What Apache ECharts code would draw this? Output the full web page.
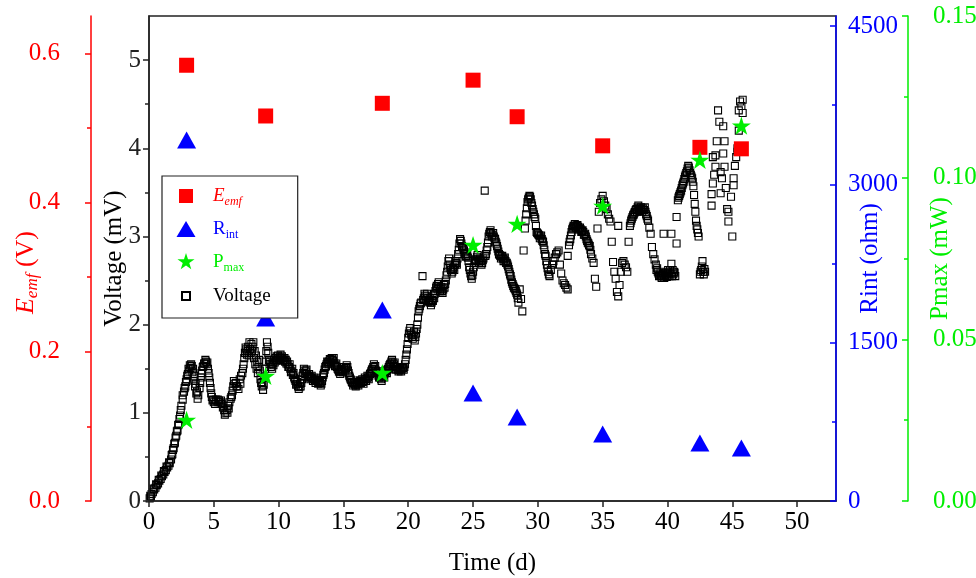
<!DOCTYPE html>
<html>
<head>
<meta charset="utf-8">
<script src="https://cdn.jsdelivr.net/npm/echarts@6/dist/echarts.min.js"></script>
<style>
  html, body { margin: 0; padding: 0; background: #fff; }
  #chart { width: 976px; height: 578px; }
</style>
</head>
<body>
<div id="chart"></div>
<script>
// Electrode measurements: Eemf, internal resistance and peak power on selected days
const sampleDays = [2.9, 9, 18, 25, 28.4, 35, 42.5, 45.7];
const eemfValues = [0.584, 0.516, 0.533, 0.564, 0.515, 0.476, 0.474, 0.472];
const rintValues = [3420, 1734, 1810, 1023, 796, 635, 549, 502];
const pmaxValues = [0.0251, 0.0387, 0.0396, 0.0792, 0.0857, 0.0913, 0.1055, 0.1161];

// Logged cell voltage: [day, mV]
const voltagePoints = [
  [0.05,0.03],[0.1,0.06],[0.2,0.08],[0.3,0.10],[0.4,0.13],[0.5,0.15],[0.6,0.18],[0.7,0.20],[0.8,0.23],[0.9,0.25],
  [1.0,0.28],[1.1,0.30],[1.2,0.33],[1.3,0.35],[1.4,0.38],[1.5,0.40],[1.6,0.43],[1.7,0.47],[1.8,0.53],[1.9,0.60],
  [2.0,0.66],[2.1,0.74],[2.2,0.80],[2.3,0.87],[2.4,0.97],[2.5,1.08],[2.6,1.15],[2.7,1.24],[2.8,1.30],[2.9,1.38],
  [3.0,1.44],[3.1,1.48],[3.2,1.51],[3.3,1.53],[3.4,1.50],[3.5,1.42],[3.5,1.36],[3.6,1.33],[3.7,1.24],[3.8,1.20],
  [3.9,1.28],[4.0,1.40],[4.1,1.48],[4.2,1.53],[4.3,1.56],[4.4,1.58],[4.5,1.57],[4.6,1.45],[4.7,1.34],[4.8,1.22],
  [4.9,1.14],[5.0,1.12],[5.1,1.10],[5.2,1.13],[5.3,1.15],[5.4,1.14],[5.5,1.12],[5.6,1.10],[5.7,1.06],[5.8,1.03],
  [5.9,1.00],[6.0,1.03],[6.1,1.08],[6.2,1.12],[6.3,1.16],[6.4,1.20],[6.5,1.30],[6.6,1.33],[6.7,1.34],[6.8,1.30],
  [6.9,1.27],[7.0,1.38],[7.1,1.42],[7.2,1.45],[7.3,1.55],[7.4,1.68],[7.5,1.72],[7.6,1.70],[7.7,1.65],[7.8,1.72],
  [7.9,1.78],[8.0,1.75],[8.1,1.62],[8.2,1.55],[8.3,1.50],[8.4,1.45],[8.5,1.60],[8.6,1.38],[8.7,1.30],[8.8,1.26],
  [8.9,1.40],[9.0,1.58],[9.1,1.80],[9.2,1.68],[9.3,1.55],[9.4,1.52],[9.5,1.50],[9.6,1.54],[9.7,1.57],[9.8,1.59],
  [9.9,1.60],[10.0,1.62],[10.1,1.63],[10.2,1.62],[10.3,1.62],[10.4,1.60],[10.5,1.58],[10.6,1.56],[10.7,1.55],[10.8,1.52],
  [10.9,1.50],[11.0,1.47],[11.1,1.43],[11.2,1.40],[11.3,1.36],[11.4,1.33],[11.5,1.30],[11.6,1.29],[11.7,1.30],[11.8,1.38],
  [11.9,1.45],[12.0,1.48],[12.1,1.47],[12.2,1.44],[12.3,1.42],[12.4,1.41],[12.5,1.40],[12.6,1.39],[12.7,1.38],[12.8,1.37],
  [12.9,1.37],[13.0,1.36],[13.1,1.35],[13.2,1.34],[13.3,1.33],[13.4,1.40],[13.5,1.45],[13.6,1.52],[13.7,1.55],[13.8,1.57],
  [13.9,1.58],[14.0,1.60],[14.1,1.62],[14.2,1.59],[14.3,1.56],[14.4,1.54],[14.5,1.52],[14.6,1.49],[14.7,1.46],[14.8,1.47],
  [14.9,1.48],[15.0,1.49],[15.1,1.50],[15.2,1.51],[15.3,1.52],[15.4,1.45],[15.5,1.40],[15.6,1.37],[15.7,1.34],[15.8,1.33],
  [15.9,1.32],[16.0,1.32],[16.1,1.33],[16.2,1.35],[16.3,1.36],[16.4,1.36],[16.5,1.35],[16.6,1.36],[16.7,1.38],[16.8,1.39],
  [16.9,1.40],[17.0,1.42],[17.1,1.45],[17.2,1.49],[17.3,1.52],[17.4,1.50],[17.5,1.48],[17.6,1.45],[17.7,1.42],[17.8,1.40],
  [17.9,1.38],[18.0,1.40],[18.1,1.43],[18.2,1.45],[18.3,1.47],[18.4,1.49],[18.5,1.52],[18.6,1.55],[18.7,1.58],[18.8,1.57],
  [18.9,1.55],[19.0,1.52],[19.1,1.50],[19.2,1.49],[19.3,1.49],[19.4,1.49],[19.5,1.50],[19.6,1.51],[19.7,1.52],[19.8,1.60],
  [19.9,1.72],[20.0,1.85],[20.1,1.93],[20.2,1.90],[20.3,1.86],[20.4,1.88],[20.5,1.82],[20.6,1.90],[20.7,2.00],[20.8,2.15],
  [20.9,2.21],[21.0,2.25],[21.1,2.55],[21.2,2.30],[21.3,2.33],[21.4,2.32],[21.5,2.30],[21.6,2.27],[21.7,2.25],[21.8,2.25],
  [21.9,2.27],[22.0,2.30],[22.1,2.38],[22.2,2.44],[22.3,2.46],[22.4,2.42],[22.5,2.40],[22.6,2.38],[22.7,2.40],[22.8,2.42],
  [22.9,2.50],[23.0,2.60],[23.1,2.72],[23.2,2.68],[23.3,2.62],[23.4,2.60],[23.5,2.65],[23.6,2.68],[23.7,2.70],[23.8,2.75],
  [23.9,2.85],[24.0,2.97],[24.1,2.92],[24.2,2.88],[24.3,2.84],[24.4,2.80],[24.5,2.78],[24.6,2.76],[24.7,2.65],[24.8,2.58],
  [24.9,2.52],[25.0,2.60],[25.1,2.70],[25.2,2.74],[25.3,2.77],[25.4,2.75],[25.5,2.73],[25.6,2.72],[25.7,2.70],[25.8,2.75],
  [25.9,3.52],[26.0,2.80],[26.1,2.88],[26.2,3.00],[26.3,3.05],[26.4,3.04],[26.5,3.02],[26.6,3.00],[26.7,2.97],[26.8,2.92],
  [26.9,2.86],[27.0,2.80],[27.1,2.78],[27.2,2.77],[27.3,2.75],[27.4,2.74],[27.5,2.72],[27.6,2.70],[27.7,2.66],[27.8,2.60],
  [27.9,2.55],[28.0,2.48],[28.1,2.44],[28.2,2.41],[28.3,2.38],[28.4,2.34],[28.5,2.25],[28.6,2.40],[28.7,2.29],[28.8,2.15],
  [28.9,2.84],[29.0,3.09],[29.1,3.25],[29.2,3.39],[29.3,3.44],[29.4,3.45],[29.5,3.38],[29.6,3.31],[29.7,3.25],[29.8,3.20],
  [29.9,3.05],[30.0,3.03],[30.1,3.01],[30.2,3.00],[30.3,2.97],[30.4,2.94],[30.5,2.85],[30.6,2.78],[30.7,2.68],[30.8,2.60],
  [30.9,2.55],[31.0,2.62],[31.1,2.68],[31.2,2.72],[31.3,2.76],[31.4,2.80],[31.5,2.82],[31.6,2.84],[31.7,2.68],[31.8,2.58],
  [31.9,2.50],[32.0,2.47],[32.1,2.45],[32.2,2.42],[32.3,2.40],[32.3,2.78],[32.4,2.90],[32.5,2.97],[32.6,3.05],[32.7,3.10],
  [32.8,3.11],[32.9,3.12],[33.0,3.12],[33.1,3.11],[33.2,3.09],[33.3,3.08],[33.4,3.06],[33.5,3.05],[33.6,3.02],[33.7,3.00],
  [33.8,2.95],[33.9,2.92],[34.0,2.89],[34.1,2.80],[34.2,2.75],[34.3,2.70],[34.4,2.52],[34.5,2.43],[34.6,3.09],[34.7,3.28],
  [34.8,3.38],[34.9,3.42],[35.0,3.46],[35.1,3.40],[35.2,3.35],[35.3,3.31],[35.4,3.25],[35.5,3.20],[35.6,3.17],[35.7,2.94],
  [35.8,2.71],[35.9,2.60],[36.0,2.52],[36.1,2.37],[36.2,2.32],[36.2,3.12],[36.3,2.45],[36.4,2.60],[36.5,2.70],[36.6,2.72],
  [36.7,2.68],[36.8,2.65],[36.9,2.60],[37.0,2.94],[37.1,3.12],[37.2,3.18],[37.3,3.22],[37.4,3.25],[37.5,3.28],[37.6,3.31],
  [37.7,3.33],[37.8,3.32],[37.9,3.30],[38.0,3.31],[38.1,3.32],[38.2,3.30],[38.3,3.28],[38.4,3.23],[38.5,3.18],[38.6,3.10],
  [38.7,3.03],[38.8,2.88],[38.9,2.80],[39.0,2.74],[39.1,2.68],[39.2,2.64],[39.3,2.58],[39.4,2.56],[39.5,2.55],[39.6,2.55],
  [39.7,2.56],[39.7,3.03],[39.8,2.58],[39.9,2.60],[40.0,2.59],[40.1,2.58],[40.2,2.62],[40.3,2.69],[40.3,3.03],[40.4,2.62],
  [40.5,2.60],[40.6,2.55],[40.7,2.92],[40.7,3.22],[40.8,3.41],[40.9,3.46],[41.0,3.50],[41.1,3.55],[41.2,3.60],[41.3,3.65],
  [41.4,3.70],[41.5,3.74],[41.6,3.80],[41.7,3.75],[41.8,3.70],[41.9,3.66],[42.0,3.57],[42.1,3.37],[42.2,3.18],[42.3,3.08],
  [42.4,3.00],[42.5,2.57],[42.6,2.62],[42.7,2.72],[42.8,2.57],[42.9,2.60],[43.4,3.35],[43.4,3.48],[43.5,3.60],[43.5,3.90],
  [43.6,3.70],[43.7,3.79],[43.7,3.92],[43.8,4.08],[43.9,4.43],[44.0,4.30],[44.1,3.49],[44.1,3.73],[44.2,3.66],[44.3,3.94],
  [44.3,4.25],[44.4,4.08],[44.4,3.79],[44.5,3.55],[44.6,3.31],[44.7,3.17],[44.7,3.28],[44.9,3.45],[45.0,3.00],[45.1,3.58],
  [45.1,3.66],[45.2,3.80],[45.3,3.90],[45.4,4.00],[45.4,3.96],[45.5,4.20],[45.5,4.43],[45.6,4.53],[45.7,4.48],[45.8,4.40],
  [45.8,4.55],
  // second pass of readings where the logged band is thick
  [0.15,0.05],[0.35,0.14],[0.55,0.19],[0.75,0.24],[0.95,0.29],[1.15,0.34],[1.35,0.39],[1.55,0.44],[1.75,0.52],[1.85,0.58],
  [1.95,0.65],[2.05,0.72],[2.15,0.79],[2.25,0.86],[2.35,0.93],[2.45,1.03],
  [2.6,1.20],[2.75,1.28],[2.85,1.35],[2.95,1.42],[3.05,1.50],[3.15,1.54],[3.25,1.55],[3.35,1.46],[3.45,1.40],[3.55,1.30],
  [3.65,1.22],[3.75,1.16],[3.95,1.34],[4.05,1.45],[4.15,1.52],[4.25,1.56],[4.35,1.60],[4.45,1.55],[4.55,1.50],[4.65,1.40],
  [4.75,1.28],[4.85,1.18],[4.95,1.15],[5.15,1.15],[5.35,1.12],[5.55,1.14],[5.75,1.08],[5.85,0.98],[6.05,1.00],[6.15,1.05],
  [6.35,1.18],[6.45,1.25],[6.55,1.36],[6.75,1.30],
  [7.05,1.33],[7.25,1.50],[7.35,1.62],[7.45,1.74],[7.55,1.66],[7.65,1.75],[7.75,1.80],[7.85,1.68],[7.95,1.70],[8.05,1.80],
  [8.15,1.70],[8.25,1.65],[8.35,1.58],[8.45,1.52],[8.55,1.48],[8.65,1.34],[8.75,1.35],[8.85,1.32],[8.95,1.50],[9.05,1.70],
  [9.15,1.75],[9.25,1.60],[9.35,1.58],[9.45,1.55],[9.55,1.56],[9.65,1.60],[9.75,1.62],[9.85,1.64],[9.95,1.65],[10.05,1.60],
  [10.15,1.66],[10.25,1.64],[10.35,1.59],[10.45,1.62],[10.55,1.60],[10.65,1.58],[10.75,1.52],[10.85,1.55],[10.95,1.46],[11.05,1.50],
  [11.15,1.45],[11.25,1.38],[11.35,1.32],[11.45,1.35],[11.55,1.27],[11.65,1.33],[11.75,1.34],[11.85,1.42],[11.95,1.50],[12.05,1.44],
  [12.15,1.49],[12.25,1.40],[12.35,1.44],[12.45,1.38],[12.55,1.42],[12.65,1.36],[12.75,1.40],[12.85,1.34],[12.95,1.39],[13.05,1.33],
  [13.15,1.37],[13.25,1.31],[13.35,1.36],[13.45,1.43],[13.55,1.49],[13.65,1.53],[13.75,1.58],[13.85,1.55],[13.95,1.61],[14.05,1.57],
  [14.15,1.60],[14.25,1.62],[14.35,1.53],[14.45,1.56],[14.55,1.50],[14.65,1.47],[14.75,1.44],[14.85,1.50],[14.95,1.46],[15.05,1.52],
  [15.15,1.48],[15.25,1.54],[15.35,1.48],[15.45,1.42],[15.55,1.38],[15.65,1.35],[15.75,1.31],[15.85,1.35],[15.95,1.30],[16.05,1.34],
  [16.15,1.31],[16.25,1.37],[16.35,1.34],[16.45,1.38],[16.55,1.33],[16.65,1.40],[16.75,1.36],[16.85,1.42],[16.95,1.38],[17.05,1.44],
  [17.15,1.47],[17.25,1.50],[17.35,1.55],[17.45,1.53],[17.55,1.46],[17.65,1.47],[17.75,1.40],[17.85,1.42],[17.95,1.36],[18.05,1.42],
  [18.15,1.40],[18.25,1.48],[18.35,1.45],[18.45,1.50],[18.55,1.54],[18.65,1.56],[18.75,1.60],[18.85,1.53],[18.95,1.57],[19.05,1.49],
  [19.15,1.52],[19.25,1.47],[19.35,1.51],[19.45,1.47],[19.55,1.52],[19.65,1.49],[19.75,1.55],[19.85,1.66],[19.95,1.78],[20.05,1.90],
  [20.15,1.96],[20.25,1.88],[20.35,1.84],[20.45,1.92],[20.55,1.86],[20.65,1.95],[20.75,2.08],[20.85,2.18],[20.95,2.24],
  [21.15,2.28],[21.25,2.35],[21.35,2.28],[21.45,2.35],[21.55,2.26],[21.65,2.30],[21.75,2.22],[21.85,2.28],[21.95,2.33],[22.05,2.35],
  [22.15,2.42],[22.25,2.40],[22.35,2.48],[22.45,2.38],[22.55,2.43],[22.65,2.36],[22.75,2.45],[22.85,2.46],[22.95,2.56],[23.05,2.66],
  [23.15,2.75],[23.25,2.64],[23.35,2.58],[23.45,2.63],[23.55,2.62],[23.65,2.72],[23.75,2.68],[23.85,2.80],[23.95,2.92],[24.05,2.95],
  [24.15,2.89],[24.25,2.86],[24.35,2.82],[24.45,2.77],[24.55,2.80],[24.65,2.72],[24.75,2.62],[24.85,2.55],[24.95,2.56],[25.05,2.65],
  [25.15,2.73],[25.25,2.72],[25.35,2.79],[25.45,2.70],[25.55,2.75],[25.65,2.68],[25.75,2.73],[25.95,2.78],[26.05,2.84],[26.15,2.93],
  [26.25,3.03],[26.35,3.07],[26.45,3.00],[26.55,3.04],[26.65,2.98],[26.75,2.94],[26.85,2.89],[26.95,2.83],[27.05,2.79],[27.15,2.75],
  [27.25,2.78],[27.35,2.72],[27.45,2.76],[27.55,2.70],[27.65,2.68],[27.75,2.63],[27.85,2.57],[27.95,2.51],[28.05,2.46],[28.15,2.42],
  [28.25,2.40],[28.35,2.36],[28.45,2.30],
  [29.05,3.18],[29.15,3.32],[29.25,3.42],[29.35,3.46],[29.45,3.42],[29.55,3.35],[29.65,3.28],[29.75,3.22],[29.85,3.12],[29.95,3.04],
  [30.05,3.02],[30.15,2.98],[30.25,3.01],[30.35,2.95],[30.45,2.90],[30.55,2.80],[30.65,2.72],[30.75,2.64],[30.85,2.57],
  [32.45,2.94],[32.55,3.01],[32.65,3.08],[32.75,3.12],[32.85,3.14],[32.95,3.10],[33.05,3.13],[33.15,3.08],[33.25,3.10],[33.35,3.05],
  [33.45,3.07],[33.55,3.02],[33.65,3.03],[33.75,2.97],[33.85,2.93],[33.95,2.90],[34.05,2.85],
  [37.15,3.15],[37.25,3.20],[37.35,3.24],[37.45,3.27],[37.55,3.30],[37.65,3.28],[37.75,3.35],[37.85,3.29],[37.95,3.33],[38.05,3.28],
  [38.15,3.30],[38.25,3.33],[38.35,3.25],[38.45,3.20],
  [39.15,2.62],[39.25,2.60],[39.35,2.55],[39.45,2.58],[39.55,2.53],[39.65,2.58],[39.75,2.53],[39.85,2.56],[39.95,2.54],[40.05,2.62],
  [40.15,2.55],[40.25,2.58],[40.35,2.55],[40.45,2.57],[40.55,2.59],
  [40.85,3.44],[40.95,3.48],[41.05,3.52],[41.15,3.58],[41.25,3.62],[41.35,3.68],[41.45,3.72],[41.55,3.77],[41.65,3.78],[41.75,3.72],
  [41.85,3.68],[41.95,3.62],[42.05,3.47],[42.15,3.28],[42.25,3.12],[42.35,3.04],[42.55,2.60],[42.65,2.66],[42.75,2.60],[42.85,2.63]
];

// Tick positions for each axis
const timeTicks = [0, 5, 10, 15, 20, 25, 30, 35, 40, 45, 50];
const voltageTicks = [0, 1, 2, 3, 4, 5];
const voltageMinor = [0.5, 1.5, 2.5, 3.5, 4.5];
const eemfTicks = [0, 0.2, 0.4, 0.6];
const eemfMinor = [0.1, 0.3, 0.5];
const rintTicks = [0, 1500, 3000, 4500];
const rintMinor = [750, 2250, 3750];
const pmaxTicks = [0, 0.05, 0.10, 0.15];
const pmaxMinor = [0.025, 0.075, 0.125];

const SERIF = '"Liberation Serif", "Times New Roman", serif';
const RED = '#ff0000', BLUE = '#0000ff', GREEN = '#00ee00', INK = '#222222';

const STAR = 'path://M10 0L12.245 6.91L19.511 6.91L13.633 11.18L15.878 18.09L10 13.82L4.122 18.09L6.367 11.18L0.489 6.91L7.755 6.91Z';
// legend icons share a 24x24 frame so their relative sizes are kept
const FRAME = 'M0 0L0 0M24 24L24 24';
const LEG_SQUARE = 'path://' + FRAME + 'M5 5L19 5L19 19L5 19Z';
const LEG_TRIANGLE = 'path://' + FRAME + 'M2.5 20L12 4L21.5 20Z';
const LEG_STAR = 'path://' + FRAME + 'M12 3L14.02 9.22L20.56 9.22L15.27 13.06L17.29 19.28L12 15.44L6.71 19.28L8.73 13.06L3.44 9.22L9.98 9.22Z';
const LEG_SMALL = 'path://' + FRAME + 'M8 8L16 8L16 16L8 16Z';

const pair = (xs, ys) => xs.map((x, i) => [x, ys[i]]);

function valueAxis(o) {
  const base = {
    type: 'value',
    min: o.min, max: o.max,
    position: o.position, offset: o.offset || 0,
    splitLine: { show: false },
    axisLine: { show: o.line !== false, onZero: false, lineStyle: { color: o.color, width: 1.5 } },
    axisTick: {
      show: true, inside: !!o.inside, length: o.tickLen,
      customValues: o.ticks,
      lineStyle: { color: o.color, width: 1.5 }
    },
    axisLabel: o.labels ? {
      show: true, customValues: o.ticks, margin: o.margin,
      color: o.color, fontFamily: SERIF, fontSize: 25,
      formatter: o.fmt
    } : { show: false },
    z: 5
  };
  if (o.name) {
    base.name = o.name;
    base.nameLocation = 'middle';
    base.nameGap = o.nameGap;
    base.nameMoveOverlap = false;
    base.nameTextStyle = Object.assign({ color: o.color, fontFamily: SERIF, fontSize: 25 }, o.nameStyle || {});
  }
  return base;
}

const chart = echarts.init(document.getElementById('chart'), null, { renderer: 'canvas' });

chart.setOption({
  animation: false,
  backgroundColor: '#ffffff',
  grid: {
    left: 149, right: 140, top: 16, bottom: 77,
    containLabel: false, outerBoundsMode: 'none',
    show: true, borderColor: INK, borderWidth: 1.5, backgroundColor: 'transparent'
  },
  legend: {
    orient: 'vertical',
    left: 162, top: 176,
    padding: [8, 27, 9, 11],
    itemWidth: 44, itemHeight: 24, itemGap: 9,
    borderColor: INK, borderWidth: 1.2,
    backgroundColor: '#ffffff',
    symbolKeepAspect: true,
    data: [
      { name: 'Eemf', icon: LEG_SQUARE },
      { name: 'Rint', icon: LEG_TRIANGLE },
      { name: 'Pmax', icon: LEG_STAR },
      { name: 'Voltage', icon: LEG_SMALL }
    ],
    formatter: function (name) {
      if (name === 'Eemf') return '{re|E}{rs|emf}';
      if (name === 'Rint') return '{bm|R}{bs|int}';
      if (name === 'Pmax') return '{gm|P}{gs|max}';
      return '{k|Voltage}';
    },
    textStyle: {
      fontFamily: SERIF, fontSize: 19, lineHeight: 24,
      rich: {
        re: { color: RED, fontFamily: SERIF, fontStyle: 'italic', fontSize: 19, lineHeight: 24 },
        rs: { color: RED, fontFamily: SERIF, fontStyle: 'italic', fontSize: 12, lineHeight: 10, verticalAlign: 'bottom' },
        bm: { color: BLUE, fontFamily: SERIF, fontSize: 19, lineHeight: 24 },
        bs: { color: BLUE, fontFamily: SERIF, fontSize: 12, lineHeight: 10, verticalAlign: 'bottom' },
        gm: { color: GREEN, fontFamily: SERIF, fontSize: 19, lineHeight: 24 },
        gs: { color: GREEN, fontFamily: SERIF, fontSize: 12, lineHeight: 10, verticalAlign: 'bottom' },
        k: { color: '#000', fontFamily: SERIF, fontSize: 19, lineHeight: 24 }
      }
    }
  },
  xAxis: {
    type: 'value', min: 0, max: 53,
    splitLine: { show: false },
    axisLine: { onZero: false, lineStyle: { color: INK, width: 1.5 } },
    axisTick: { show: true, length: 6, customValues: timeTicks, lineStyle: { color: INK, width: 1.5 } },
    axisLabel: { customValues: timeTicks, margin: 9, color: '#000', fontFamily: SERIF, fontSize: 25 },
    name: 'Time (d)', nameLocation: 'middle', nameGap: 50, nameMoveOverlap: false,
    nameTextStyle: { color: '#000', fontFamily: SERIF, fontSize: 25 },
    z: 5
  },
  yAxis: [
    // 0: voltage
    valueAxis({ min: 0, max: 5.5, position: 'left', color: INK, ticks: voltageTicks, tickLen: 6, labels: true, margin: 8,
      fmt: v => String(v), name: 'Voltage (mV)', nameGap: 22, nameStyle: { color: '#000' } }),
    valueAxis({ min: 0, max: 5.5, position: 'left', color: INK, ticks: voltageMinor, tickLen: 4, line: false }),
    // 2: Eemf
    valueAxis({ min: 0, max: 0.65, position: 'left', offset: 58, color: RED, ticks: eemfTicks, tickLen: 6, labels: true, margin: 31,
      fmt: v => v.toFixed(1), name: '{i|E}{s|emf}{n| (V)}', nameGap: 50,
      nameStyle: { padding: [0, 28, 0, 0], rich: {
        i: { color: RED, fontFamily: SERIF, fontSize: 26, fontStyle: 'italic', lineHeight: 30 },
        s: { color: RED, fontFamily: SERIF, fontSize: 17, fontStyle: 'italic', lineHeight: 12, verticalAlign: 'bottom' },
        n: { color: RED, fontFamily: SERIF, fontSize: 26, lineHeight: 30 }
      } } }),
    valueAxis({ min: 0, max: 0.65, position: 'left', offset: 58, color: RED, ticks: eemfMinor, tickLen: 4, line: false }),
    // 4: Rint
    valueAxis({ min: 0, max: 4595, position: 'right', color: BLUE, ticks: rintTicks, tickLen: 6, inside: true, labels: true, margin: 12,
      fmt: v => String(v), name: 'Rint (ohm)', nameGap: 22 }),
    valueAxis({ min: 0, max: 4595, position: 'right', color: BLUE, ticks: rintMinor, tickLen: 4, inside: true, line: false }),
    // 6: Pmax
    valueAxis({ min: 0, max: 0.15, position: 'right', offset: 72, color: GREEN, ticks: pmaxTicks, tickLen: 6, inside: true, labels: true, margin: 25,
      fmt: v => v.toFixed(2), name: 'Pmax (mW)', nameGap: 20 }),
    valueAxis({ min: 0, max: 0.15, position: 'right', offset: 72, color: GREEN, ticks: pmaxMinor, tickLen: 4, inside: true, line: false })
  ],
  series: [
    {
      name: 'Voltage', type: 'scatter', yAxisIndex: 0,
      symbol: 'rect', symbolSize: 7,
      itemStyle: { color: 'rgba(0,0,0,0)', borderColor: '#000000', borderWidth: 1.1, opacity: 1 },
      data: voltagePoints, z: 2
    },
    {
      name: 'Eemf', type: 'scatter', yAxisIndex: 2,
      symbol: 'rect', symbolSize: 15,
      itemStyle: { color: RED, opacity: 1 },
      data: pair(sampleDays, eemfValues), z: 3
    },
    {
      name: 'Rint', type: 'scatter', yAxisIndex: 4,
      symbol: 'triangle', symbolSize: [19, 17],
      itemStyle: { color: BLUE, opacity: 1 },
      data: pair(sampleDays, rintValues), z: 3
    },
    {
      name: 'Pmax', type: 'scatter', yAxisIndex: 6,
      symbol: STAR, symbolSize: 19, symbolKeepAspect: true,
      itemStyle: { color: GREEN, opacity: 1 },
      data: pair(sampleDays, pmaxValues), z: 4
    }
  ]
});
</script>
</body>
</html>
